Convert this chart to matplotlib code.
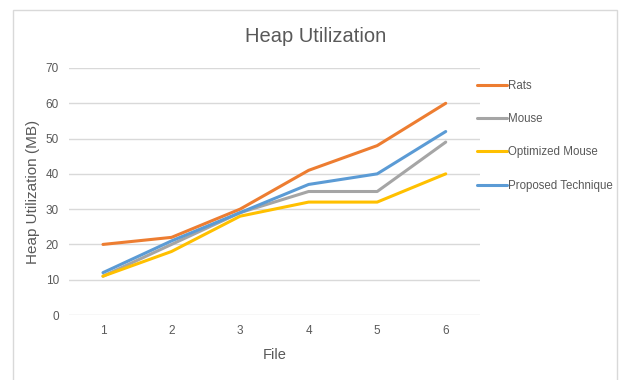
import matplotlib.pyplot as plt
from matplotlib.patches import Rectangle

files = [1, 2, 3, 4, 5, 6]
rats = [20, 22, 30, 41, 48, 60]
mouse = [11, 20, 29, 35, 35, 49]
optimized_mouse = [11, 18, 28, 32, 32, 40]
proposed = [12, 21, 29, 37, 40, 52]

series = [
    ("Rats", rats, "#ED7D31"),
    ("Mouse", mouse, "#A5A5A5"),
    ("Optimized Mouse", optimized_mouse, "#FFC000"),
    ("Proposed Technique", proposed, "#5B9BD5"),
]

plt.rcParams['font.family'] = ['Liberation Sans', 'DejaVu Sans']
text_color = "#595959"

fig = plt.figure(figsize=(6.21, 3.8), dpi=100)
# chart frame
fig.patches.append(Rectangle((13 / 621, -0.01), 604 / 621, 1 - 10 / 380 + 0.01,
                             transform=fig.transFigure, fill=False,
                             edgecolor="#d9d9d9", linewidth=1.0))

ax = fig.add_axes([68.7 / 621, 65 / 380, 411.3 / 621, 247 / 380])

lines = []
for name, vals, color in series:
    ln, = ax.plot(files, vals, color=color, linewidth=2.2, label=name,
                  solid_capstyle="round", solid_joinstyle="round")
    lines.append(ln)

ax.set_xlim(0.5, 6.5)
ax.set_ylim(0, 70)
ax.set_yticks(range(0, 71, 10))
ax.set_xticks(files)
ax.grid(axis="y", color="#d9d9d9", linewidth=1.0)
ax.set_axisbelow(True)
for s in ax.spines.values():
    s.set_visible(False)
ax.tick_params(length=0, labelsize=8.5, colors=text_color, pad=7)

ax.set_xlabel("File", fontsize=10.5, color=text_color, labelpad=8)
ax.set_ylabel("Heap Utilization (MB)", fontsize=11, color=text_color, labelpad=4)
fig.text(316 / 621, 1 - 36 / 380, "Heap Utilization", fontsize=14.5,
         color="#595959", ha="center", va="center")

leg = fig.legend(handles=lines, loc="upper left",
                 bbox_to_anchor=(472 / 621, 1 - 75 / 380), frameon=False,
                 fontsize=8.3, handlelength=2.6, handletextpad=0.15,
                 labelspacing=1.85, borderaxespad=0)
for t in leg.get_texts():
    t.set_color(text_color)

fig.savefig("out.png", dpi=100)
